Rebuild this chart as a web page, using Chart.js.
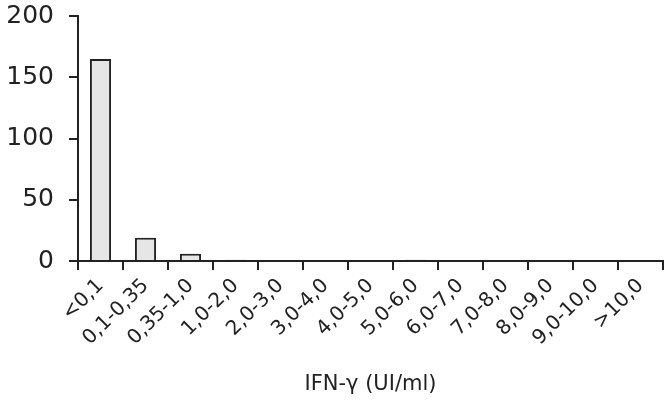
<!DOCTYPE html>
<html>
<head>
<meta charset="utf-8">
<script src="https://cdn.jsdelivr.net/npm/chart.js@4/dist/chart.umd.min.js"></script>
<style>
  html, body { margin: 0; padding: 0; background: #fff; }
  #wrap { width: 670px; height: 401px; }
</style>
</head>
<body>
<div id="wrap"><canvas id="chart" width="670" height="401"></canvas></div>
<script>
const categories = ["<0,1", "0,1-0,35", "0,35-1,0", "1,0-2,0", "2,0-3,0", "3,0-4,0", "4,0-5,0",
                    "5,0-6,0", "6,0-7,0", "7,0-8,0", "8,0-9,0", "9,0-10,0", ">10,0"];
const counts = [165, 19, 6, 1, 0, 0, 0, 1, 0, 0, 0, 0, 0];
const yTicks = [0, 50, 100, 150, 200];
const xTitle = "IFN-γ (UI/ml)";

const ink = "#222";
const font = "'DejaVu Sans', sans-serif";

new Chart(document.getElementById("chart"), {
    type: "bar",
    data: {
        labels: categories,
        datasets: [{
            data: counts,
            backgroundColor: "#e6e6e6",
            borderColor: ink,
            borderWidth: 2,
            barPercentage: 0.47,
            categoryPercentage: 1
        }]
    },
    options: {
        responsive: false,
        animation: false,
        layout: {padding: {top: 16, right: 7, left: 0, bottom: 0}},
        plugins: {legend: {display: false}, tooltip: {enabled: false}},
        scales: {
            x: {
                grid: {offset: true, drawOnChartArea: false, drawTicks: true, tickLength: 9, color: ink, lineWidth: 2},
                border: {display: true, color: ink, width: 2},
                ticks: {
                    color: ink, maxRotation: 45, minRotation: 45, autoSkip: false,
                    font: {family: font, size: 20}, padding: 4
                },
                title: {display: true, text: xTitle, color: ink, font: {family: font, size: 21}, padding: {top: 4}},
                afterFit: s => { s.height = 140; s.paddingLeft = 0; s.paddingRight = 0; }
            },
            y: {
                min: 0, max: 200,
                afterBuildTicks: s => { s.ticks = yTicks.map(v => ({value: v})); },
                grid: {drawOnChartArea: false, drawTicks: true, tickLength: 9, color: ink, lineWidth: 2},
                border: {display: true, color: ink, width: 2},
                ticks: {color: ink, font: {family: font, size: 25}, padding: 15},
                afterFit: s => { s.width = 78; s.paddingTop = 0; s.paddingBottom = 0; }
            }
        }
    }
});
</script>
</body>
</html>
